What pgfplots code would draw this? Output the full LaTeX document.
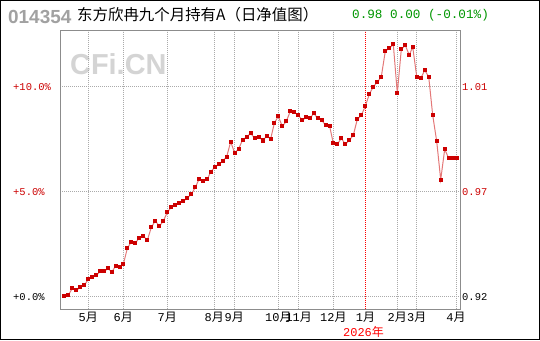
\documentclass[border=0pt]{standalone}
\usepackage{pgfplots}
\pgfplotsset{compat=1.18}
\usepackage{pgfplotstable}
\usepackage{fontspec}
\setmainfont{Liberation Sans}
\newfontfamily\cjk{Noto Sans CJK SC}
\newfontfamily\mono{Liberation Mono}
\definecolor{lred}{RGB}{204,0,0}
\definecolor{pline}{RGB}{228,120,120}
\definecolor{gtxt}{RGB}{0,150,0}
\definecolor{gridc}{RGB}{170,170,170}
\definecolor{framec}{RGB}{140,140,140}
\pgfplotstableread{
x y
64.3 0.02
68.3 0.07
72.3 0.40
76.3 0.30
80.3 0.45
84.3 0.54
88.3 0.83
92.3 0.92
96.3 1.02
100.3 1.21
104.3 1.21
108.3 1.35
111.7 1.16
115.7 1.48
119.7 1.40
123.3 1.54
127.3 2.30
131.3 2.62
135.3 2.54
139.3 2.81
143.3 2.90
147.3 2.68
151.3 3.30
155.3 3.62
159.3 3.35
163.3 3.60
167.3 4.02
171.3 4.26
175.3 4.38
179.3 4.45
183.3 4.54
187.3 4.71
191.3 4.87
195.3 5.21
199.3 5.62
203.3 5.52
207.3 5.59
210.7 5.95
214.7 6.16
218.7 6.30
222.7 6.45
226.7 6.67
230.7 7.38
234.7 6.83
238.7 7.05
242.7 7.48
246.7 7.60
250.7 7.78
254.7 7.54
258.7 7.62
262.7 7.44
266.7 7.64
270.7 7.52
274.3 8.26
278.3 8.59
282.3 8.11
286.3 8.35
290.3 8.83
294.3 8.78
298.3 8.64
302.3 8.40
306.3 8.54
310.3 8.50
313.7 8.73
317.7 8.50
321.7 8.40
325.7 8.16
329.7 8.11
333.3 7.30
337.3 7.26
341.3 7.54
345.3 7.26
349.3 7.45
353.3 7.69
357.3 8.45
361.3 8.64
365.3 9.07
369.3 9.64
373.3 10.00
377.3 10.21
381.3 10.48
385.3 11.69
389.3 11.83
393.3 12.02
397.3 9.69
401.3 11.78
405.3 11.97
409.3 11.50
412.7 11.90
416.7 10.48
420.7 10.40
424.7 10.78
428.7 10.48
432.7 8.64
436.7 7.40
440.7 5.57
444.7 7.02
448.7 6.59
452.7 6.59
456.7 6.59
}\navdata
\begin{document}
\begin{tikzpicture}[x=1bp,y=1bp]
\path[use as bounding box] (0,0) rectangle (540,340);
\fill[white] (0,0) rectangle (540,340);
\node[anchor=west, inner sep=0pt, font=\fontsize{29}{29}\selectfont\bfseries, text=black!17] at (70,276) {CFi.CN};
\begin{axis}[
  at={(60bp,31bp)}, anchor=south west, scale only axis,
  width=400bp, height=278bp,
  xmin=60, xmax=460, ymin=-0.586, ymax=12.652,
  axis line style={framec, line width=1bp},
  major tick length=0pt,
  grid=major,
  grid style={gridc, line width=0.8bp, dash pattern=on 1bp off 1bp},
  xtick={88.3,123.3,167.3,214.3,234.3,278.3,298.7,333.3,397.3,416.7,456},
  xticklabels={{\mono 5}月,{\mono 6}月,{\mono 7}月,{\mono 8}月,{\mono 9}月,{\mono 10}月,{\mono 11}月,{\mono 12}月,{\mono 2}月,{\mono 3}月,{\mono 4}月},
  extra x ticks={365.5},
  extra x tick labels={{\mono 1}月},
  extra x tick style={major grid style={red, line width=0.8bp, dash pattern=on 1bp off 1bp}},
  xticklabel style={font=\cjk\fontsize{12}{12}\selectfont, anchor=north, inner sep=0pt, yshift=-2.5bp},
  ytick={0,5,10},
  yticklabels={\textcolor{black}{+0.0\%},\textcolor{lred}{+5.0\%},\textcolor{lred}{+10.0\%}},
  yticklabel style={font=\mono\fontsize{10.5}{10.5}\selectfont, anchor=west, inner sep=0pt, xshift=-47bp},
]
\addplot[pline, line width=1bp, mark=square*, mark size=1.55bp, mark options={lred, draw=lred, fill=lred}] table[x=x,y=y] {\navdata};
\end{axis}
\begin{axis}[
  at={(60bp,31bp)}, anchor=south west, scale only axis,
  width=400bp, height=278bp,
  xmin=60, xmax=460, ymin=-0.586, ymax=12.652,
  axis y line*=right, axis x line=none,
  axis line style={draw=none},
  major tick length=0pt,
  ytick={0,5,10},
  yticklabels={\textcolor{black}{0.92},\textcolor{lred}{0.97},\textcolor{lred}{1.01}},
  yticklabel style={font=\mono\fontsize{10.5}{10.5}\selectfont, anchor=west, inner sep=0pt, xshift=2bp},
]
\end{axis}
\node[text=red, inner sep=0pt, font=\cjk\fontsize{12}{12}\selectfont] at (363.5,8) {{\mono 2026}年};
\node[anchor=west, inner sep=0pt, font=\fontsize{19}{19}\selectfont\bfseries, text=black!37] at (8,323.3) {014354};
\node[anchor=west, inner sep=0pt, font=\cjk\fontsize{15.5}{15.5}\selectfont] at (77,325.5) {东方欣冉九个月持有A（日净值图）};
\node[anchor=west, inner sep=0pt, font=\mono\fontsize{12.7}{12.7}\selectfont, text=gtxt] at (352,325) {0.98 0.00 (-0.01\%)};
\draw[black, line width=1bp] (0.5,0.5) rectangle (539.5,339.5);
\end{tikzpicture}
\end{document}
